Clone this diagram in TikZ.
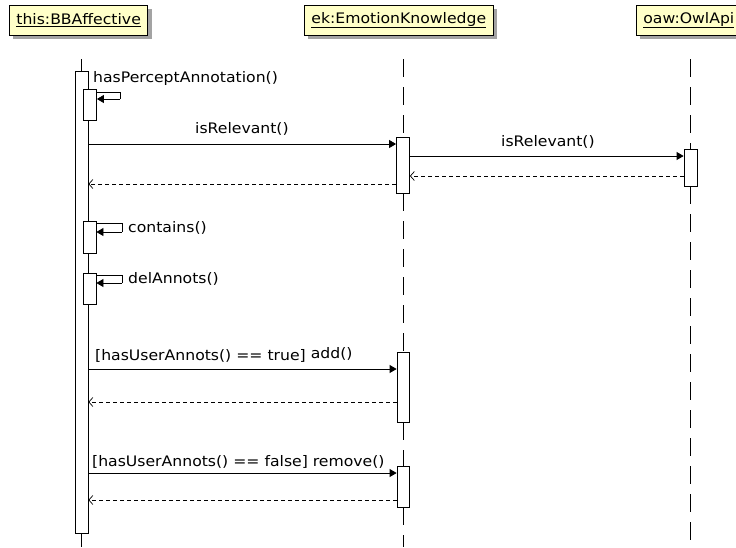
\documentclass[tikz,border=0pt]{standalone}
\usepackage{fontspec}
\setmainfont{DejaVu Sans}[FakeStretch=1.08]
\usetikzlibrary{arrows.meta,shadows}
\definecolor{headfill}{RGB}{255,255,200}
\definecolor{shadowgray}{RGB}{140,140,140}
\tikzset{
  lbl/.style={anchor=base west, inner sep=0pt, font=\fontsize{14.5}{17}\selectfont},
  headbox/.style={draw=black, fill=headfill, line width=0.8pt, anchor=west,
    minimum height=30pt, inner xsep=7pt, inner ysep=0pt,
    font=\fontsize{14.5}{17}\selectfont,
    drop shadow={shadow xshift=4pt, shadow yshift=-4pt, fill=shadowgray, opacity=0.8}},
  actbox/.style={draw=black, fill=white, line width=0.8pt, inner sep=0pt},
  lifesolid/.style={line width=0.8pt},
  lifedash/.style={line width=0.8pt, dash pattern=on 18pt off 10pt},
  call/.style={line width=0.8pt, -{Triangle[length=7pt,width=8pt]}},
  ret/.style={line width=0.7pt, dash pattern=on 4pt off 3pt, -{Straight Barb[length=4pt,width=9pt]}},
}
\begin{document}
\begin{tikzpicture}[x=1pt,y=-1pt]
\useasboundingbox (0,0) rectangle (736,547);
% heads
\node[headbox] (h1) at (9,20) {\underline{this:BBAffective}};
\node[headbox] (h2) at (304,20) {\underline{ek:EmotionKnowledge}};
\node[headbox] (h3) at (636,20) {\underline{oaw:OwlApi}};
% lifeline anchors
\coordinate (l1top) at (81.5,59);
\coordinate (l1bot) at (81.5,547);
\coordinate (l2top) at (403,59);
\coordinate (l2bot) at (403,547);
\coordinate (l3top) at (690.5,59);
\coordinate (l3bot) at (690.5,547);
% activations
\node[actbox, minimum width=13pt, minimum height=462pt] (a1) at (81.5,302) {};
\node[actbox, minimum width=13pt, minimum height=56pt] (e1) at (403,165) {};
\node[actbox, minimum width=13pt, minimum height=37pt] (o1) at (690.5,167.5) {};
\node[actbox, minimum width=12pt, minimum height=70pt] (e2) at (403,387) {};
\node[actbox, minimum width=12pt, minimum height=41pt] (e3) at (403,486.5) {};
% lifelines
\draw[lifesolid] (l1top) -- (a1.north);
\draw[lifesolid] (a1.south) -- (l1bot);
\draw[lifedash] (l2top) -- (e1.north);
\draw[lifedash] (e1.south) -- (e2.north);
\draw[lifedash] (e2.south) -- (e3.north);
\draw[lifedash] (e3.south) -- (l2bot);
\draw[lifedash] (l3top) -- (o1.north);
\draw[lifedash] (o1.south) -- (l3bot);
% nested activations on this
\node[actbox, minimum width=13pt, minimum height=31pt] (n1) at (90,104.5) {};
\node[actbox, minimum width=13pt, minimum height=32pt] (n2) at (89.5,237) {};
\node[actbox, minimum width=13pt, minimum height=31pt] (n3) at (89.5,288.5) {};
% self calls
\coordinate (s1a) at (120,92);
\coordinate (s1b) at (120,99);
\draw[line width=0.8pt] (n1.east |- s1a) -- (s1a) -- (s1b);
\draw[call] (s1b) -- (n1.east |- s1b);
\node[lbl] (t1) at (93,82) {hasPerceptAnnotation()};
\coordinate (s2a) at (122,223);
\coordinate (s2b) at (122,232);
\draw[line width=0.8pt] (n2.east |- s2a) -- (s2a) -- (s2b);
\draw[call] (s2b) -- (n2.east |- s2b);
\node[lbl] (t2) at (128,232) {contains()};
\coordinate (s3a) at (122,275);
\coordinate (s3b) at (122,283);
\draw[line width=0.8pt] (n3.east |- s3a) -- (s3a) -- (s3b);
\draw[call] (s3b) -- (n3.east |- s3b);
\node[lbl] (t3) at (128,283) {delAnnots()};
% isRelevant
\coordinate (m1) at (0,144);
\draw[call] (a1.east |- m1) -- (e1.west |- m1);
\node[lbl] (t4) at (195,133) {isRelevant()};
\coordinate (m2) at (0,156);
\draw[call] (e1.east |- m2) -- (o1.west |- m2);
\node[lbl] (t5) at (501,146) {isRelevant()};
\coordinate (r2) at (0,176);
\draw[ret] (o1.west |- r2) -- (e1.east |- r2);
\coordinate (r1) at (0,184);
\draw[ret] (e1.west |- r1) -- (a1.east |- r1);
% add
\coordinate (m3) at (0,369);
\draw[call] (a1.east |- m3) -- (e2.west |- m3);
\node[lbl] (t6) at (95,360) {[hasUserAnnots() == true] \raisebox{2pt}{add()}};
\coordinate (r3) at (0,402);
\draw[ret] (e2.west |- r3) -- (a1.east |- r3);
% remove
\coordinate (m4) at (0,473);
\draw[call] (a1.east |- m4) -- (e3.west |- m4);
\node[lbl] (t7) at (92,466) {[hasUserAnnots() == false] remove()};
\coordinate (r4) at (0,500);
\draw[ret] (e3.west |- r4) -- (a1.east |- r4);
\end{tikzpicture}
\end{document}
